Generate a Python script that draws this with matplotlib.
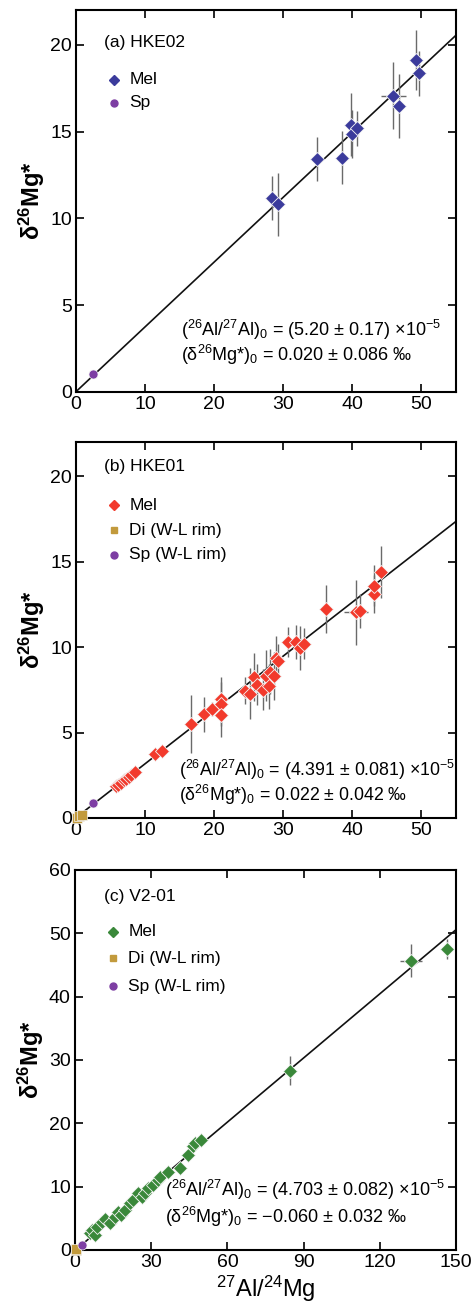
import matplotlib
matplotlib.use("Agg")
import matplotlib.pyplot as plt
import numpy as np

plt.rcParams['font.family'] = ['Liberation Sans', 'DejaVu Sans']
plt.rcParams['mathtext.fontset'] = 'custom'
plt.rcParams['mathtext.rm'] = 'Liberation Sans'
plt.rcParams['mathtext.it'] = 'Liberation Sans:italic'
plt.rcParams['mathtext.bf'] = 'Liberation Sans:bold'

# ---------------- Panel (a) HKE02 ----------------
a_mel_x = [28.4, 29.2, 34.9, 38.5, 39.8, 39.9, 40.7, 45.9, 46.8, 49.2, 49.7]
a_mel_y = [11.19, 10.80, 13.42, 13.50, 15.40, 14.86, 15.19, 17.06, 16.48, 19.12, 18.36]
a_mel_xerr = [0.4, 0.4, 0.4, 0.4, 0.4, 0.4, 0.4, 1.8, 0.5, 0.4, 0.4]
a_mel_yerr = [1.26, 1.8, 1.24, 1.53, 1.8, 1.38, 1.0, 1.94, 1.86, 1.7, 1.3]
a_sp_x = [2.45]
a_sp_y = [1.05]
a_slope_A0 = 5.20e-5
a_int = 0.020

# ---------------- Panel (b) HKE01 ----------------
b_mel_x = [5.8, 6.1, 6.5, 6.9, 7.2, 7.6, 8.0, 8.6, 11.5, 12.4, 16.6, 18.5, 19.7,
           20.95, 20.95, 20.95, 24.4, 25.2, 25.7, 26.2, 27.0, 27.5, 27.9, 28.05,
           28.6, 28.9, 29.3, 30.7, 31.8, 32.4, 33.0, 36.2, 40.5, 41.1, 43.1, 43.2, 44.2]
b_mel_y = [1.85, 1.95, 2.05, 2.25, 2.3, 2.4, 2.5, 2.72, 3.76, 3.9, 5.51, 6.06, 6.39,
           6.96, 6.68, 6.04, 7.46, 7.27, 8.24, 7.8, 7.5, 8.32, 7.7, 8.57,
           8.32, 9.35, 9.16, 10.3, 10.3, 9.94, 10.2, 12.24, 12.04, 12.1, 13.12, 13.6, 14.4]
b_mel_xerr = [0.2] * 24 + [0.7] + [0.2] * 6 + [0.3, 1.7, 0.3, 0.3, 0.3, 0.3]
b_mel_yerr = [0.2, 0.2, 0.2, 0.2, 0.2, 0.2, 0.2, 0.2, 0.2, 0.2, 1.7, 1.0, 0.4,
              1.3, 1.3, 1.3, 0.8, 1.5, 1.4, 1.2, 1.2, 1.5, 1.3, 1.3,
              1.4, 1.3, 1.0, 0.9, 1.0, 1.3, 0.9, 1.4, 1.9, 1.0, 1.1, 1.2, 1.5]
b_di_x = [0.1, 0.4, 0.9]
b_di_y = [0.02, 0.1, 0.2]
b_sp_x = [2.48]
b_sp_y = [0.86]
b_slope_A0 = 4.391e-5
b_int = 0.022

# ---------------- Panel (c) V2-01 ----------------
c_mel_x = [6.0, 6.5, 7.9, 8.5, 10.5, 12.0, 13.75, 15.7, 17.0, 18.3, 19.6, 21.6, 22.9,
           24.9, 26.2, 27.5, 28.8, 30.8, 32.7, 33.4, 36.7, 41.3, 44.5, 46.5, 47.2,
           49.8, 84.5, 132.3, 146.5]
c_mel_y = [2.7, 3.16, 2.4, 3.68, 4.47, 4.9, 4.2, 5.26, 6.05, 5.53, 6.3, 7.37, 7.9,
           8.95, 8.4, 9.05, 9.74, 10.27, 11.06, 11.58, 12.27, 13.0, 15.0, 16.4, 16.85,
           17.4, 28.3, 45.7, 47.5]
c_mel_xerr = [0.6] * 26 + [1.0, 4.3, 1.0]
c_mel_yerr = [0.9] * 26 + [2.3, 2.6, 1.6]
c_di_x = [0.2, 0.5]
c_di_y = [0.05, 0.1]
c_sp_x = [2.6]
c_sp_y = [0.8]
c_slope_A0 = 4.703e-5
c_int = -0.060

MG_RATIO = 0.13932

COL_A = '#3b3b9c'
COL_SP = '#7d3ea3'
COL_B = '#f23a2c'
COL_DI = '#c29a3c'
COL_C = '#3a883a'
ERR = '#6a6a6a'

fig = plt.figure(figsize=(4.74, 13.06), dpi=100)
W, H = 474.0, 1306.0


def make_ax(left, top, right, bottom):
    return fig.add_axes([left / W, 1 - bottom / H, (right - left) / W, (bottom - top) / H])


ax_a = make_ax(76, 10, 456, 392)
ax_b = make_ax(76, 442, 456, 818)
ax_c = make_ax(75, 870, 456, 1250)

TS = 14


def style(ax, xlim, ylim, xt, yt):
    ax.set_xlim(*xlim)
    ax.set_ylim(*ylim)
    ax.set_xticks(xt)
    ax.set_yticks(yt)
    ax.tick_params(direction='in', length=6, width=1.2, top=True, right=True,
                   labelsize=TS, pad=3)
    for s in ax.spines.values():
        s.set_linewidth(1.5)
    ax.set_ylabel(r'δ$^{\mathbf{26}}$Mg*', fontsize=17, fontweight='bold', labelpad=2)


def fitline(ax, A0, b, xmax):
    xs = np.array([0, xmax])
    ax.plot(xs, b + A0 / MG_RATIO * 1000 * xs, color='#111111', lw=1.2, zorder=2)


def pts(ax, x, y, xe, ye, color, marker, ms):
    ax.errorbar(x, y, xerr=xe, yerr=ye, fmt='none', ecolor=ERR, elinewidth=1.0,
                capsize=0, zorder=3)
    ax.plot(x, y, linestyle='none', marker=marker, color=color, ms=ms,
            markeredgecolor='#f4f4f4', markeredgewidth=0.6, zorder=4)


def legend(ax, items):
    for (ypx, color, marker, ms, text) in items:
        ax.plot([0.10], [ypx], transform=ax.transAxes, marker=marker, color=color,
                ms=ms, linestyle='none', clip_on=False)
        ax.text(0.14, ypx, text, transform=ax.transAxes, fontsize=12.5, va='center')


def ax_frac(ypx, top, bottom):
    return (bottom - ypx) / (bottom - top)


# Panel a
style(ax_a, (0, 55), (0, 22), range(0, 51, 10), range(0, 21, 5))
fitline(ax_a, a_slope_A0, a_int, 55)
pts(ax_a, a_mel_x, a_mel_y, a_mel_xerr, a_mel_yerr, COL_A, 'D', 7)
ax_a.plot(a_sp_x, a_sp_y, 'o', color=COL_SP, ms=6.5, mec='#f4f4f4', mew=0.5, zorder=4)
ax_a.text(0.075, ax_frac(43, 10, 392), '(a) HKE02', transform=ax_a.transAxes,
          fontsize=12.5, va='center')
legend(ax_a, [(ax_frac(80, 10, 392), COL_A, 'D', 5, 'Mel'),
              (ax_frac(103, 10, 392), COL_SP, 'o', 5, 'Sp')])
ax_a.text(0.276, ax_frac(330, 10, 392),
          r'($^{26}$Al/$^{27}$Al)$_0$ = (5.20 ± 0.17) ×10$^{-5}$',
          transform=ax_a.transAxes, fontsize=13, va='center')
ax_a.text(0.276, ax_frac(355, 10, 392),
          r'(δ$^{26}$Mg*)$_0$ = 0.020 ± 0.086 ‰',
          transform=ax_a.transAxes, fontsize=13, va='center')

# Panel b
style(ax_b, (0, 55), (0, 22), range(0, 51, 10), range(0, 21, 5))
fitline(ax_b, b_slope_A0, b_int, 55)
pts(ax_b, b_mel_x, b_mel_y, b_mel_xerr, b_mel_yerr, COL_B, 'D', 7)
ax_b.plot(b_di_x, b_di_y, 's', color=COL_DI, ms=6.5, mec='#f4f4f4', mew=0.5, zorder=4,
          clip_on=False)
ax_b.plot(b_sp_x, b_sp_y, 'o', color=COL_SP, ms=6.5, mec='#f4f4f4', mew=0.5, zorder=4)
ax_b.text(0.075, ax_frac(466, 442, 818), '(b) HKE01', transform=ax_b.transAxes,
          fontsize=12.5, va='center')
legend(ax_b, [(ax_frac(505, 442, 818), COL_B, 'D', 5, 'Mel'),
              (ax_frac(530, 442, 818), COL_DI, 's', 5, 'Di (W-L rim)'),
              (ax_frac(555, 442, 818), COL_SP, 'o', 5, 'Sp (W-L rim)')])
ax_b.text(0.27, ax_frac(770, 442, 818),
          r'($^{26}$Al/$^{27}$Al)$_0$ = (4.391 ± 0.081) ×10$^{-5}$',
          transform=ax_b.transAxes, fontsize=12.8, va='center')
ax_b.text(0.27, ax_frac(795, 442, 818),
          r'(δ$^{26}$Mg*)$_0$ = 0.022 ± 0.042 ‰',
          transform=ax_b.transAxes, fontsize=12.8, va='center')

# Panel c
style(ax_c, (0, 150), (0, 60), range(0, 151, 30), range(0, 61, 10))
fitline(ax_c, c_slope_A0, c_int, 150)
pts(ax_c, c_mel_x, c_mel_y, c_mel_xerr, c_mel_yerr, COL_C, 'D', 7)
ax_c.plot(c_di_x, c_di_y, 's', color=COL_DI, ms=6.5, mec='#f4f4f4', mew=0.5, zorder=4,
          clip_on=False)
ax_c.plot(c_sp_x, c_sp_y, 'o', color=COL_SP, ms=6.5, mec='#f4f4f4', mew=0.5, zorder=4)
ax_c.text(0.075, ax_frac(897, 870, 1250), '(c) V2-01', transform=ax_c.transAxes,
          fontsize=12.5, va='center')
legend(ax_c, [(ax_frac(932, 870, 1250), COL_C, 'D', 5, 'Mel'),
              (ax_frac(958, 870, 1250), COL_DI, 's', 5, 'Di (W-L rim)'),
              (ax_frac(986, 870, 1250), COL_SP, 'o', 5, 'Sp (W-L rim)')])
ax_c.text(0.235, ax_frac(1190, 870, 1250),
          r'($^{26}$Al/$^{27}$Al)$_0$ = (4.703 ± 0.082) ×10$^{-5}$',
          transform=ax_c.transAxes, fontsize=13, va='center')
ax_c.text(0.235, ax_frac(1217, 870, 1250),
          r'(δ$^{26}$Mg*)$_0$ = −0.060 ± 0.032 ‰',
          transform=ax_c.transAxes, fontsize=13, va='center')
ax_c.set_xlabel(r'$^{27}$Al/$^{24}$Mg', fontsize=17, labelpad=2)

fig.savefig('out.png', dpi=100)
